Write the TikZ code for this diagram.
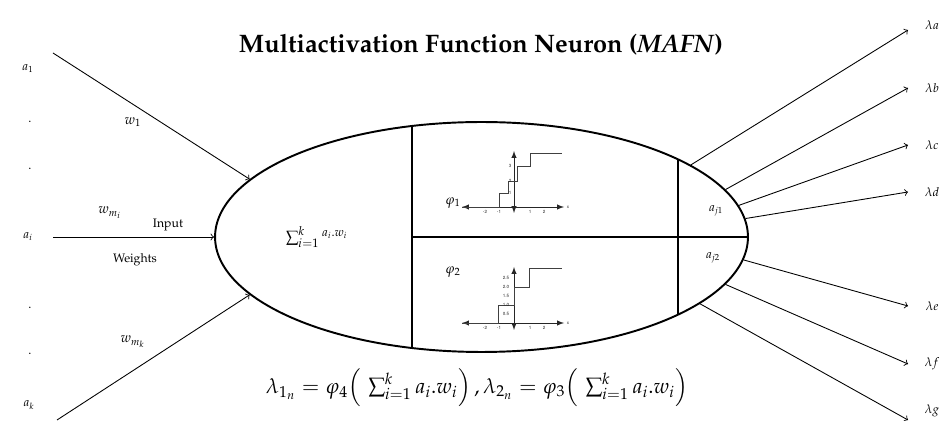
\documentclass[tikz,border=0pt]{standalone}
\usepackage[T1]{fontenc}
\usepackage{mathpazo}
\usepackage[scaled=0.92]{helvet}
\usepackage{amsmath}
\usetikzlibrary{shapes,arrows,positioning,calc}

\begin{document}
\begin{tikzpicture}[
    x=0.02cm, y=-0.02cm,
    neuron/.style={ellipse, draw, line width=1.1pt, minimum width=10.66cm,
                   minimum height=4.6cm, inner sep=0pt},
    part/.style={line width=1.1pt},
    lbl/.style={font=\scriptsize, inner sep=1pt},
    wlbl/.style={font=\footnotesize, inner sep=1pt},
    arrow/.style={->, line width=0.5pt},
    axis/.style={<->, >=latex, line width=0.35pt, black!85},
    stepfn/.style={line width=0.55pt, black!75},
    tick/.style={font=\sffamily\fontsize{2.8}{3}\selectfont, inner sep=0pt, black!85}
]
\useasboundingbox (0,0) rectangle (945,421);

\node[font=\Large\bfseries] (title) at (481,45)
    {Multiactivation Function Neuron (\textit{MAFN})};

% the neuron body
\node[neuron] (neuron) at (481.5,237) {};
\draw[part] (412,126) -- (412,348);
\draw[part] (678,159) -- (678,315);
\draw[part] (412,237) -- (neuron.east);

\node[font=\small] (sum) at (317,237) {$\sum_{i=1}^{k}{}^{a_i.w_i}$};
\node[lbl] (aj1) at (716,211) {$a_{j1}$};
\node[lbl] (aj2) at (713,258) {$a_{j2}$};

% phi 1
\node[font=\footnotesize] (phi1) at (453,203) {$\varphi_1$};
\begin{scope}[shift={(514,207)}]
  \draw[axis] (-52,0) -- (50,0);
  \draw[axis] (0,6) -- (0,-56);
  \draw[stepfn] (-52,0) -- (-15,0) |- (-6,-14) |- (3,-26) |- (16,-41) |- (48,-54);
  \foreach \v/\p in {-2/-29, -1/-15, 1/16, 2/30}
    \node[tick] at (\p,5) {\v};
  \foreach \v/\p in {1/-14, 2/-26, 3/-41}
    \node[tick] at (-4,\p) {\v};
  \node[tick] at (54,0) {x};
\end{scope}

% phi 2
\node[font=\footnotesize] (phi2) at (453,272) {$\varphi_2$};
\begin{scope}[shift={(514,323)}]
  \draw[axis] (-52,0) -- (50,0);
  \draw[axis] (0,7) -- (0,-56);
  \draw[stepfn] (-52,0) -- (-16,0) |- (0,-18) |- (15,-36) |- (48,-55);
  \foreach \v/\p in {-2/-29, -1/-15, 1/16, 2/30}
    \node[tick] at (\p,5) {\v};
  \foreach \v/\p in {0.5/-9, 1.0/-18, 1.5/-27, 2.0/-36, 2.5/-45}
    \node[tick] at (-8,\p) {\v};
  \node[tick] at (54,0) {x};
\end{scope}

% inputs
\node[lbl] (a1) at (28,69) {$a_1$};
\node[lbl] (ai) at (28,237) {$a_i$};
\node[lbl] (ak) at (29,405) {$a_k$};
\foreach \yy in {123,170,309,355}
  \node[lbl, anchor=base] at (30,\yy) {.};
\coordinate (s1) at (53,53);
\coordinate (si) at (53,237);
\coordinate (sk) at (57,420);
\draw[arrow] (s1) -- (neuron.166);
\draw[arrow] (si) -- (neuron.180);
\draw[arrow] (sk) -- (neuron.194);
\node[wlbl] (w1) at (133,122) {$w_1$};
\node[wlbl] (wmi) at (110,213) {$w_{m_i}$};
\node[lbl] (input) at (168,225) {Input};
\node[lbl] (weights) at (135,260) {Weights};
\node[wlbl] (wmk) at (133,342) {$w_{m_k}$};

% outputs
\foreach \ang/\yy/\ly/\nm in {19/30/25/a, 11/88/88/b, 7/145/145/c, 4/192/192/d,
                              355/306/306/e, 349/364/364/f, 343/420/411/g} {
  \coordinate (t\nm) at (908,\yy);
  \draw[arrow] (neuron.\ang) -- (t\nm);
  \node[lbl] (l\nm) at (932,\ly) {$\lambda \nm$};
}

\node[font=\large] (eqn) at (477,388)
    {$\lambda_{1_n} = \varphi_4\Big(\,\sum_{i=1}^{k} a_i.w_i\Big)\,, \lambda_{2_n} = \varphi_3\Big(\,\sum_{i=1}^{k} a_i.w_i\Big)$};
\end{tikzpicture}
\end{document}
